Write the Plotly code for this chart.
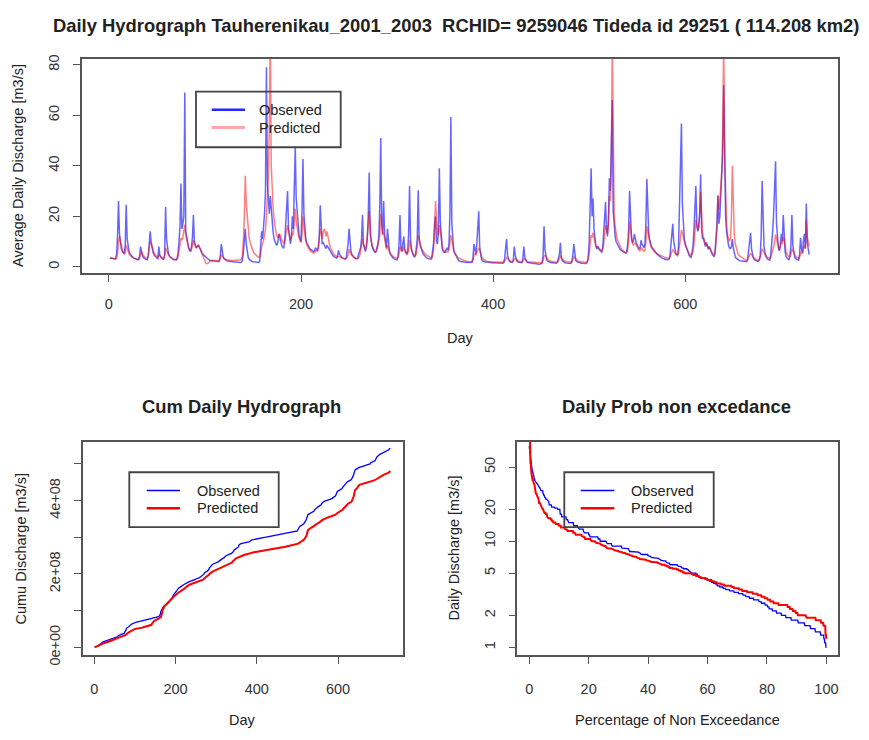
import numpy as np
import plotly.graph_objects as go

# ---------------- data ----------------
# Daily average discharge [m3/s], days 1..729
observed = [
    3.5, 3.4, 3.3, 3.3, 3.2, 3.2, 3.3, 5, 12, 26,            # 1
    13, 9, 7, 6, 5.5, 5.3, 8.5, 24.5, 11, 8,                 # 11
    6, 5.2, 4.6, 4.1, 3.7, 3.4, 3.2, 3, 2.9, 2.8,            # 21
    2.8, 4.5, 8, 5.5, 4.2, 3.6, 3.2, 3, 2.9, 2.8,            # 31
    4.5, 9, 14, 9.5, 7, 5.6, 4.7, 4.1, 3.7, 3.4,             # 41
    3.2, 8, 4.5, 3.6, 3.3, 3.1, 3, 4.5, 23.7, 11,            # 51
    6.5, 5, 4.2, 3.7, 3.3, 3.1, 2.9, 2.8, 2.7, 2.6,          # 61
    3.5, 5.5, 10, 16, 33, 15, 17, 20, 69, 14,                # 71
    12, 9, 7.5, 6.5, 6, 8, 12, 20.5, 10, 8.5,                # 81
    7.5, 8, 8.5, 8, 7, 6, 5.4, 4.9, 4.5, 4.1,                # 91
    3.7, 3.4, 3.1, 2.8, 2.6, 2.5, 2.4, 2.3, 2.2, 2.2,        # 101
    2.1, 2.1, 2, 2, 2.2, 4.5, 9, 5.5, 3.8, 3.2,              # 111
    2.8, 2.6, 2.4, 2.3, 2.2, 2.1, 2.1, 2, 2, 1.9,            # 121
    1.9, 1.9, 1.8, 1.8, 1.8, 1.7, 1.7, 1.8, 2.6, 6,          # 131
    10, 15, 9, 5.5, 3.8, 3, 2.6, 2.3, 2.1, 2,                # 141
    1.9, 1.8, 1.8, 1.7, 1.7, 1.7, 2.2, 7, 14, 11,            # 151
    15, 21, 30, 79, 33, 24, 21, 28, 22, 17,                  # 161
    13.5, 11, 9.8, 9, 8.5, 10, 13, 11, 9, 8.3,               # 171
    7.7, 7.3, 10, 16, 22, 30, 15, 11, 9, 12,                 # 181
    20, 15, 30, 47.6, 27, 21, 15, 12.5, 11, 10,              # 191
    22, 42.7, 21, 14, 11, 9.5, 8.6, 7.9, 7.3, 6.9,           # 201
    6.6, 6.3, 6, 6.3, 7.5, 7, 6.6, 7.5, 12, 24.3,            # 211
    13, 9, 9.5, 8.5, 7.8, 7.2, 8.5, 7.8, 6.8, 6.2,           # 221
    5.8, 5.1, 4.5, 4.1, 3.8, 3.5, 3.4, 4.2, 6.5, 5,          # 231
    4.3, 3.8, 3.5, 3.3, 3.1, 3, 3.6, 6, 9, 15,               # 241
    8, 6, 4.9, 4.3, 3.8, 3.5, 3.3, 3.2, 3.4, 5,              # 251
    6, 7.5, 11, 20.5, 9, 6.8, 6, 7.5, 11, 20.5,              # 261
    37.3, 13, 10, 8, 6.9, 6.2, 5.7, 6, 7.5, 9,               # 271
    12, 24, 51, 18, 13, 26, 13, 9, 7.5, 15,                  # 281
    8.5, 6, 4.9, 4.2, 3.7, 3.4, 3.1, 2.9, 2.8, 2.7,          # 291
    4.2, 9, 20.5, 8, 6.2, 9, 12, 7, 5.7, 5.1,                # 301
    6, 13, 32, 11, 7, 5, 4.3, 3.9, 4.3, 7.5,                 # 311
    11, 30.3, 11, 8.5, 7, 6, 5.2, 4.6, 4.1, 3.7,             # 321
    3.5, 3.3, 3.1, 3, 2.9, 3.3, 5.8, 9.5, 17, 20,            # 331
    10, 9, 14, 39, 18, 10, 7, 6.2, 5.6, 5.8,                 # 341
    6.8, 7.5, 6.5, 8.5, 21, 59.3, 17, 9.5, 6.5, 5.5,         # 351
    4.6, 3.6, 2.9, 2.5, 2.2, 2.1, 2, 1.9, 1.9, 1.8,          # 361
    1.8, 1.8, 1.7, 1.7, 1.7, 1.6, 1.6, 1.8, 3.5, 9,          # 371
    7, 5, 9, 15, 22, 8, 4, 2.8, 2.3, 2.1,                    # 381
    2, 1.9, 1.9, 1.8, 1.8, 1.7, 1.7, 1.6, 1.6, 1.6,          # 391
    1.6, 1.5, 1.5, 1.5, 1.5, 1.4, 1.4, 1.4, 1.4, 1.4,        # 401
    1.7, 3.5, 7.5, 11, 4.5, 2.6, 2.1, 1.9, 1.8, 1.7,         # 411
    2.8, 8, 4.5, 2.7, 2.1, 1.9, 1.8, 1.7, 1.6, 1.6,          # 421
    3.5, 8, 3.6, 2.3, 1.9, 1.7, 1.6, 1.6, 1.5, 1.5,          # 431
    1.4, 1.3, 1.3, 1.2, 1.1, 1.1, 1, 1, 1.1, 1.2,            # 441
    1.4, 4.5, 16, 6.5, 3.4, 2.5, 2.1, 1.9, 1.8, 1.7,         # 451
    1.6, 1.6, 1.5, 1.5, 1.4, 1.4, 1.9, 3.2, 5, 9.5,          # 461
    3.6, 2.4, 2, 1.8, 1.6, 1.5, 1.5, 1.4, 1.4, 1.3,          # 471
    1.3, 2.3, 4.5, 9, 4.3, 2.5, 2, 1.8, 1.6, 1.5,            # 481
    1.5, 1.4, 1.4, 1.3, 1.3, 1.3, 1.3, 1.7, 3.8, 10,         # 491
    25, 39, 20, 27, 15, 10, 8, 7, 8, 7,                      # 501
    6.5, 6, 5.8, 7, 12, 20.5, 25.6, 15, 12, 18,              # 511
    35, 30, 45, 66, 22, 15.5, 12, 10, 9.2, 8.6,              # 521
    7.5, 7, 6.6, 6.3, 6, 5.8, 5.6, 5.5, 6, 8.5,              # 531
    14, 30, 17, 11.5, 9.5, 10, 13, 11, 9.5, 8.6,             # 541
    7.5, 7.1, 7.5, 10.5, 9, 8, 7.5, 9, 17, 34.7,             # 551
    18, 13, 10.5, 9, 8, 7.3, 6.7, 6.2, 5.8, 5.4,             # 561
    4.9, 4.5, 4.2, 3.9, 3.6, 3.4, 3.2, 3.1, 3, 2.9,          # 571
    2.8, 2.8, 2.9, 4, 8, 12, 17, 10, 6.5, 5.5,               # 581
    5, 4.7, 8, 21, 35, 56.7, 25, 15, 11, 9,                  # 591
    7.6, 6.5, 5.2, 4.5, 4, 3.7, 5.5, 8, 14, 22,              # 601
    32, 17, 14, 16, 21, 36.6, 15, 11, 11.5, 9.5,             # 611
    8, 9.5, 7.8, 6.9, 8, 6.8, 5.9, 5, 4.4, 3.9,              # 621
    6, 11, 17, 28, 17, 20, 30, 36, 45, 72,                   # 631
    32, 20, 14, 10.5, 8.5, 7.5, 7, 8, 11, 7.5,               # 641
    5, 4, 3.4, 3, 2.7, 2.5, 2.4, 2.3, 2.2, 2.2,              # 651
    2.1, 2.1, 2, 2, 3.2, 6.5, 10.5, 13.3, 7, 4.4,            # 661
    3.3, 2.8, 2.5, 2.3, 2.2, 2.2, 2.6, 4.5, 12, 34,          # 671
    13, 8, 5.6, 4, 3.3, 2.9, 2.7, 2.6, 5, 9,                 # 681
    14, 21, 35, 41.8, 17, 9.5, 7.3, 6.3, 8.5, 13,            # 691
    10, 20.5, 11, 5.8, 4, 3.4, 3, 2.8, 4.5, 8.5,             # 701
    20.5, 8.5, 5.3, 3.7, 3.2, 2.9, 2.7, 2.6, 5, 11.5,        # 711
    7.2, 5.4, 10.5, 13, 7.2, 25, 9.5, 5.8, 4.8,              # 721
]

predicted = [
    3.5, 3.4, 3.3, 3.2, 3.1, 3.1, 3, 3.3, 5, 10,             # 1
    12, 10, 8, 6.5, 5.5, 5, 5.5, 8.5, 7, 5.8,                # 11
    5, 4.5, 4.1, 3.8, 3.6, 3.4, 3.3, 3.2, 3.1, 3,            # 21
    2.9, 3.5, 5.5, 6, 5, 4.3, 3.9, 3.6, 3.4, 3.3,            # 31
    4.5, 7.5, 10, 9.5, 8, 6.5, 5.5, 4.8, 4.3, 4,             # 41
    3.8, 4.6, 4.4, 3.9, 3.6, 3.4, 3.2, 4, 7.5, 6.5,          # 51
    5.5, 4.7, 4.2, 3.8, 3.5, 3.3, 3.1, 3, 2.9, 2.8,          # 61
    3, 3.8, 5.5, 8.5, 11.5, 10.5, 11.5, 14, 16.7, 12.5,      # 71
    10.5, 8.6, 7.5, 6.8, 6.3, 6.8, 8.5, 10.5, 9, 8,          # 81
    7.5, 8, 8.5, 8, 7, 6, 5, 3.8, 2.5, 1.6,                  # 91
    1.3, 1.2, 1.3, 1.6, 2, 2.3, 2.4, 2.5, 2.5, 2.5,          # 101
    2.5, 2.5, 2.5, 2.5, 2.6, 3.5, 4.8, 4.3, 3.8, 3.3,        # 111
    2.9, 2.8, 2.7, 2.7, 2.6, 2.6, 2.6, 2.5, 2.5, 2.5,        # 121
    2.5, 2.5, 2.5, 2.6, 2.6, 2.6, 2.7, 2.8, 4.5, 10,         # 131
    20, 36, 25, 19, 14.5, 11.5, 9.6, 8.2, 7.1, 6.2,          # 141
    5.5, 5, 4.6, 4.3, 4, 3.8, 4, 5.2, 8, 9,                  # 151
    10.5, 12.5, 15, 20, 27, 36, 55, 95, 40, 30,              # 161
    23, 18.5, 15.5, 13.5, 12, 11.5, 12.5, 13, 11.5, 10.5,    # 171
    9.6, 9.2, 9.8, 11.5, 14.5, 16.5, 15, 12.5, 10.5, 11.5,   # 181
    13.5, 12.5, 18, 23, 18, 15, 13, 11.5, 10, 9.5,           # 191
    12.5, 20, 16, 12, 10, 8.7, 7.8, 7.1, 6.6, 6.2,           # 201
    5.9, 5.6, 5.4, 5.6, 6.3, 6.3, 6.1, 7.2, 10, 15,          # 211
    14, 11, 13.5, 15, 14, 12, 14, 11.5, 9.5, 8.2,            # 221
    7.2, 6.3, 5.6, 5, 4.6, 4.3, 4.1, 3.9, 4.1, 4.1,          # 231
    3.8, 3.6, 3.4, 3.3, 3.2, 3.1, 3.2, 3.6, 4.6, 7,          # 241
    6, 5, 4.4, 3.9, 3.6, 3.4, 3.2, 3.1, 3.1, 3.5,            # 251
    4.2, 6, 8, 11, 8.8, 7.3, 6.8, 8.3, 11.5, 16.5,           # 261
    22, 14.5, 10.5, 8.6, 7.4, 6.6, 6, 5.8, 6.4, 8.3,         # 271
    9.6, 12.5, 21, 15.5, 12.5, 13.5, 10.5, 8.2, 6.8, 8.6,    # 281
    7.2, 6, 5.3, 4.8, 4.3, 4, 3.8, 3.5, 3.4, 3.3,            # 291
    3.7, 5, 7.8, 6.8, 6, 6.8, 7.8, 6.2, 5.3, 4.8,            # 301
    5.1, 6.8, 10.5, 8.2, 6.5, 5.6, 5, 4.5, 4.4, 5.2,         # 311
    7.8, 12.5, 11, 9.1, 7.7, 6.8, 6.1, 5.6, 5.1, 4.8,        # 321
    4.5, 4.2, 4, 3.8, 3.6, 3.6, 4.3, 6.8, 13.5, 26,          # 331
    16.5, 13.5, 12.5, 16.5, 14.5, 10.5, 8.2, 7, 6.2, 5.7,    # 341
    5.7, 6.1, 5.9, 6.8, 9.6, 12.5, 10.5, 7.7, 6.3, 5.5,      # 351
    4.8, 4.3, 3.8, 3.4, 3.2, 3, 2.8, 2.6, 2.5, 2.4,          # 361
    2.3, 2.2, 2.1, 2, 2, 2, 1.9, 2, 2.6, 4.5,                # 371
    5, 4.7, 5.4, 6.4, 7.4, 6.4, 4.9, 3.9, 3.2, 2.9,          # 381
    2.7, 2.4, 2.2, 2.1, 2, 2, 1.9, 1.9, 1.9, 1.9,            # 391
    1.9, 1.9, 1.9, 1.8, 1.8, 1.8, 1.8, 1.8, 1.7, 1.7,        # 401
    1.8, 2.2, 3.2, 3.7, 3.3, 2.8, 2.5, 2.3, 2.1, 2,          # 411
    2.2, 3.1, 3.3, 2.9, 2.5, 2.3, 2.1, 2, 2, 1.9,            # 421
    2.3, 3, 2.9, 2.5, 2.2, 2, 1.95, 1.9, 1.9, 1.9,           # 431
    1.9, 1.8, 1.8, 1.8, 1.7, 1.7, 1.7, 1.6, 1.6, 1.6,        # 441
    1.7, 2.4, 4.2, 4.5, 3.9, 3.3, 2.8, 2.5, 2.3, 2.1,        # 451
    2, 2, 1.9, 1.9, 1.9, 1.9, 2, 2.4, 3.2, 4.2,              # 461
    3.7, 3.1, 2.7, 2.4, 2.2, 2, 2, 1.9, 1.9, 1.9,            # 471
    1.9, 2, 2.9, 3.9, 3.6, 3, 2.6, 2.3, 2.2, 2,              # 481
    2, 1.9, 1.9, 1.8, 1.8, 1.8, 1.8, 2, 3, 5,                # 491
    8.5, 12.5, 11.5, 13.5, 11.5, 9.2, 8.3, 7.7, 7.9, 7.4,    # 501
    6.9, 6.5, 6.3, 7, 8.8, 12.5, 16.5, 15, 13, 17,           # 511
    28, 26, 38, 90, 34, 20.5, 16, 13, 11.2, 10.2,            # 521
    9, 8, 7.4, 6.8, 6.3, 6, 5.7, 5.4, 5.4, 6.6,              # 531
    10.5, 18, 14.5, 11, 9.3, 8.4, 9.3, 9.3, 8.4, 7.5,        # 541
    6.8, 6.4, 6.4, 7.5, 7, 6.5, 6.1, 6.6, 9.5, 16,           # 551
    14, 11.5, 9.5, 8.2, 7.4, 6.8, 6.3, 5.9, 5.5, 5.2,        # 561
    5, 4.7, 4.5, 4.3, 4.2, 4, 3.9, 3.8, 3.7, 3.6,            # 571
    3.5, 3.4, 3.3, 3.8, 4.7, 5.6, 6.8, 6.3, 5.5, 5,          # 581
    4.6, 4.3, 5.1, 7.6, 10.5, 14.5, 13.5, 11.5, 9.5, 8.5,    # 591
    7.6, 6.7, 5.8, 5.2, 4.8, 4.4, 5, 5.9, 8.6, 13.5,         # 601
    18.5, 16.5, 14.5, 15.5, 20.5, 29.5, 18.5, 13.5, 11.5, 9.6,  # 611
    8.6, 9.6, 8.2, 7.2, 7.7, 7.2, 6.3, 5.6, 5.1, 4.7,        # 621
    5, 8.6, 14.5, 28.5, 22.5, 26.5, 34.5, 38, 55, 90,        # 631
    45, 28, 16.5, 12.5, 10.5, 10, 11, 19, 40, 23,            # 641
    13, 9.2, 7.3, 5.9, 5, 4.5, 4.1, 3.8, 3.6, 3.4,           # 651
    2.8, 2.7, 2.6, 2.5, 2.7, 3.8, 4.5, 5.3, 4.7, 4.1,        # 661
    3.7, 3.4, 3.2, 2.6, 2.5, 2.5, 2.7, 3.8, 5, 7.2,          # 671
    6.3, 5.3, 4.7, 4.1, 3.8, 3.5, 3.3, 3.2, 3.6, 4.9,        # 681
    6.3, 8.1, 10, 12.8, 10.9, 9, 7.6, 6.7, 8.1, 10,          # 691
    9, 11.8, 10.9, 7.2, 5.6, 4.9, 4.4, 4, 4, 4.9,            # 701
    7.2, 6.3, 5.2, 4.4, 4, 3.7, 3.4, 3.3, 3.8, 5.8,          # 711
    6.3, 5.3, 7.7, 8.6, 7.2, 18.6, 11.8, 9, 8.1,             # 721
]

series_names = ["Observed", "Predicted"]
top_title = "Daily Hydrograph Tauherenikau_2001_2003\u00a0 RCHID= 9259046 Tideda id 29251 ( 114.208 km2)"
hydro_yticks = [0, 20, 40, 60, 80]
day_ticks = [0, 200, 400, 600]
cum_ticks = [0, 1e8, 2e8, 3e8, 4e8, 5e8]
cum_ticklabels = ["0e+00", "", "2e+08", "", "4e+08", ""]
pct_ticks = [0, 20, 40, 60, 80, 100]
fdc_ticks = [1, 2, 5, 10, 20, 50]

assert len(observed) == len(predicted), (len(observed), len(predicted))

# ---------------- derived series ----------------
obs = np.array(observed, dtype=float)
pred = np.array(predicted, dtype=float)
n = len(obs)
day = np.arange(1, n + 1)
cum_obs = np.cumsum(obs) * 86400.0
cum_pred = np.cumsum(pred) * 86400.0
pct = np.arange(n) / (n - 1) * 100.0
fdc_obs = np.sort(obs)[::-1]
fdc_pred = np.sort(pred)[::-1]

# ---------------- layout helpers ----------------
W, H = 869, 740
def X(px):
    return px / W
def Y(py):
    return 1 - py / H

FONT = "Liberation Sans, Arial, Helvetica, sans-serif"
TXT = "#222222"
AX = "#555555"

fig = go.Figure()

fig.add_trace(go.Scatter(x=day, y=obs, mode="lines", name="Observed",
                         line=dict(color="rgba(0,0,255,0.6)", width=1.5),
                         xaxis="x", yaxis="y", showlegend=False))
fig.add_trace(go.Scatter(x=day, y=pred, mode="lines", name="Predicted",
                         line=dict(color="rgba(255,0,0,0.5)", width=1.5),
                         xaxis="x", yaxis="y", showlegend=False))
fig.add_trace(go.Scatter(x=day, y=cum_obs, mode="lines", name="Observed",
                         line=dict(color="#0000ff", width=1.3),
                         xaxis="x2", yaxis="y2", showlegend=False))
fig.add_trace(go.Scatter(x=day, y=cum_pred, mode="lines", name="Predicted",
                         line=dict(color="#ff0000", width=2),
                         xaxis="x2", yaxis="y2", showlegend=False))
fig.add_trace(go.Scatter(x=pct, y=fdc_obs, mode="lines", name="Observed",
                         line=dict(color="#0000ff", width=1.3),
                         xaxis="x3", yaxis="y3", showlegend=False))
fig.add_trace(go.Scatter(x=pct, y=fdc_pred, mode="lines", name="Predicted",
                         line=dict(color="#ff0000", width=2),
                         xaxis="x3", yaxis="y3", showlegend=False))

def axis(**kw):
    d = dict(showline=True, mirror=True, linecolor=AX, linewidth=1.6,
             ticks="outside", ticklen=7, tickwidth=1.3, tickcolor=AX,
             showgrid=False, zeroline=False, fixedrange=True,
             tickfont=dict(family=FONT, size=14.5, color="#333333"))
    d.update(kw)
    return d

fig.update_layout(
    width=W, height=H,
    margin=dict(l=0, r=0, t=0, b=0),
    paper_bgcolor="white", plot_bgcolor="white",
    showlegend=False,
    xaxis=axis(domain=[X(82), X(838)], range=[-28, 759], tickmode="array",
               tickvals=day_ticks, anchor="y", ticklabelstandoff=10),
    yaxis=axis(domain=[Y(274), Y(56)], range=[-2.4, 82.3], tickmode="array",
               tickvals=hydro_yticks, tickangle=-90, anchor="x", ticklabelstandoff=8),
    xaxis2=axis(domain=[X(82.7), X(403)], range=[-28.4, 760], tickmode="array",
                tickvals=day_ticks, anchor="y2", ticklabelstandoff=12),
    yaxis2=axis(domain=[Y(664), Y(446)], range=[-0.22e8, 5.61e8], tickmode="array",
                tickvals=cum_ticks, ticktext=cum_ticklabels, tickangle=-90,
                anchor="x2", ticklabelstandoff=8),
    xaxis3=axis(domain=[X(517.3), X(838.3)], range=[-4, 104], tickmode="array",
                tickvals=pct_ticks, anchor="y3", ticklabelstandoff=12),
    yaxis3=axis(domain=[Y(664), Y(446)], type="log", range=[-0.077, 1.940],
                tickmode="array", tickvals=fdc_ticks,
                ticktext=[str(v) for v in fdc_ticks], tickangle=-90,
                anchor="x3", ticklabelstandoff=8),
)

ann = []
def text(s, px, py, size=14.5, angle=0, bold=False, xanchor="center"):
    ann.append(dict(text=("<b>%s</b>" % s) if bold else s, x=X(px), y=Y(py),
                    xref="paper", yref="paper", showarrow=False,
                    xanchor=xanchor, yanchor="middle", textangle=angle,
                    font=dict(family=FONT, size=size, color=TXT)))

# titles
text(top_title, 456, 22, size=18.4, bold=True)
text("Cum Daily Hydrograph", 241.5, 410.7, size=18.4, bold=True)
text("Daily Prob non excedance", 676, 410.7, size=18.4, bold=True)
# axis titles
text("Average Daily Discharge [m3/s]", 18, 165, angle=-90)
text("Day", 460, 340)
text("Cumu Discharge [m3/s]", 20, 555, angle=-90)
text("Day", 242.9, 730)
text("Daily Discharge [m3/s]", 453, 555, angle=-90)
text("Percentage of Non Exceedance", 677.8, 730)

shapes = []
def legend(box, line_x, rows, text_x, colors, widths):
    x0, x1, y0, y1 = box
    shapes.append(dict(type="rect", xref="paper", yref="paper",
                       x0=X(x0), x1=X(x1), y0=Y(y1), y1=Y(y0),
                       line=dict(color="#444444", width=1.8),
                       fillcolor="rgba(255,255,255,0)"))
    for name, ry, c, w in zip(series_names, rows, colors, widths):
        shapes.append(dict(type="line", xref="paper", yref="paper",
                           x0=X(line_x[0]), x1=X(line_x[1]), y0=Y(ry), y1=Y(ry),
                           line=dict(color=c, width=w)))
        text(name, text_x, ry, xanchor="left")

legend((196, 340.7, 89.3, 146), (211.7, 245), (107.7, 126), 257,
       ["rgba(0,0,255,0.85)", "rgba(255,0,0,0.35)"], [2.5, 3])
legend((129.3, 278.7, 477.3, 533.3), (146.7, 180), (496, 514), 195,
       ["#0000ff", "#ff0000"], [1.5, 2.5])
legend((564.3, 713.7, 477.3, 533.3), (580.7, 614.3), (496, 514), 629,
       ["#0000ff", "#ff0000"], [1.5, 2.5])

fig.update_layout(annotations=ann, shapes=shapes)
fig.write_html("out.html")
